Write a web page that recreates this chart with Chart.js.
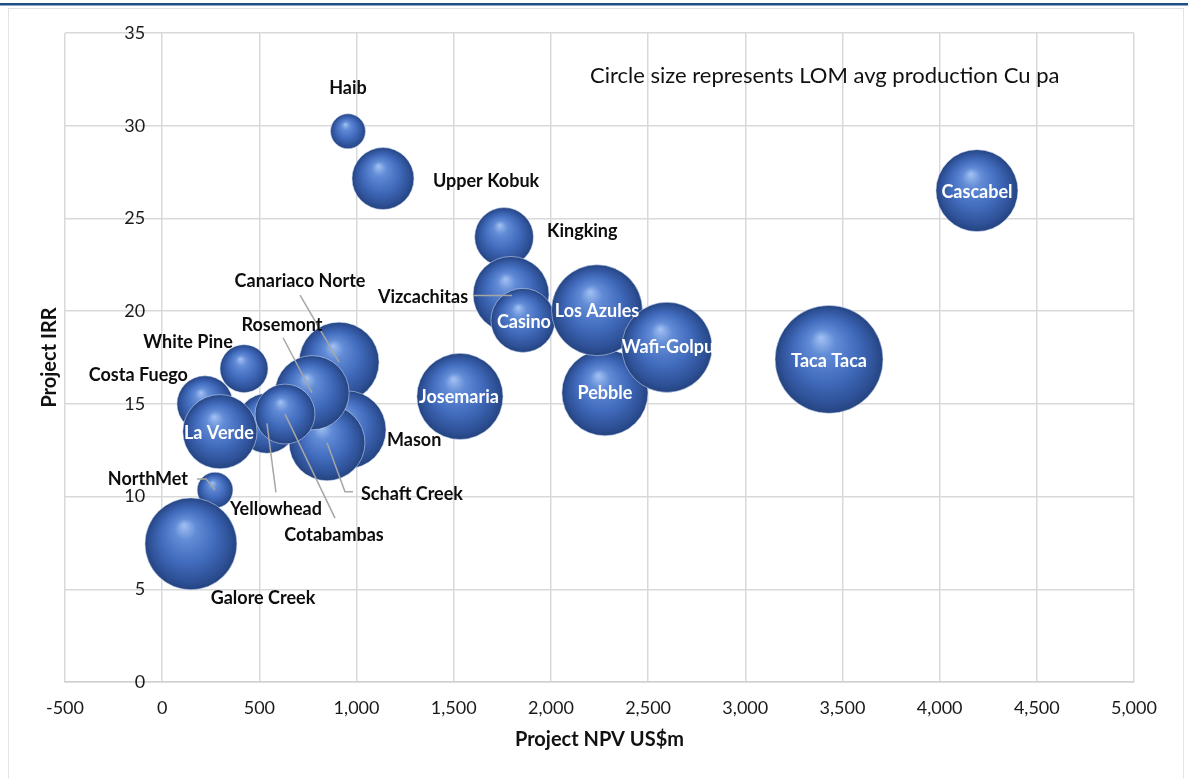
<!DOCTYPE html>
<html>
<head>
<meta charset="utf-8">
<title>Copper projects - NPV vs IRR</title>
<script src="https://cdn.jsdelivr.net/npm/chart.js@4.4.1/dist/chart.umd.min.js"></script>
<style>
    html, body { margin: 0; padding: 0; background: #ffffff; }
    #wrap { position: relative; width: 1188px; height: 778px; }
</style>
</head>
<body>
<div id="wrap"><canvas id="chart"></canvas></div>
<script>
// Project names, drawn in this order (later ones sit on top)
const projects = [
    'Canariaco Norte', 'Mason', 'Schaft Creek', 'Rosemont', 'Yellowhead', 'Cotabambas',
    'Costa Fuego', 'La Verde', 'White Pine', 'NorthMet', 'Galore Creek', 'Haib',
    'Upper Kobuk', 'Kingking', 'Vizcachitas', 'Casino', 'Pebble', 'Los Azules',
    'Wafi-Golpu', 'Josemaria', 'Taca Taca', 'Cascabel'
];

// Project NPV US$m
const npv = [
    910, 951, 848, 771, 539, 632,
    220, 297, 421, 272, 148, 956,
    1136, 1759, 1795, 1856, 2278, 2237,
    2597, 1532, 3431, 4192
];

// Project IRR %
const irr = [
    17.25, 13.6, 12.9, 15.6, 13.95, 14.45,
    15.0, 13.5, 16.9, 10.35, 7.45, 29.7,
    27.15, 24.0, 20.9, 19.5, 15.6, 20.05,
    18.05, 15.4, 17.4, 26.5
];

// LOM avg production Cu pa (kt, bubble area)
const production = [
    100, 95, 90, 86, 56, 56,
    49, 86, 36, 20, 132, 19,
    60, 54, 90, 64, 116, 129,
    127, 116, 182, 105
];

// x axis ticks
const npvTicks = [-500, 0, 500, 1000, 1500, 2000, 2500, 3000, 3500, 4000, 4500, 5000];

// label placement: [dx, dy, align, colour, leader points]
const labelLayout = {
    'Haib':            [0, -43, 'center', 'dark'],
    'Upper Kobuk':     [50, 3, 'left', 'dark'],
    'Kingking':        [43, -6, 'left', 'dark'],
    'Vizcachitas':     [-43, 3, 'right', 'dark', [[-38, 1], [1, 1]]],
    'Canariaco Norte': [-39, -81, 'center', 'dark', [[-39, -67], [0, 0]]],
    'Rosemont':        [-30, -68, 'center', 'dark', [[-29, -55], [0, 0]]],
    'Mason':           [40, 10, 'left', 'dark'],
    'Schaft Creek':    [34, 51, 'left', 'dark', [[0, 0], [18, 49], [26, 49]]],
    'Cotabambas':      [49, 121, 'center', 'dark', [[0, 0], [50, 104]]],
    'Yellowhead':      [9, 86, 'center', 'dark', [[0, 0], [9, 69]]],
    'Costa Fuego':     [-17, -29, 'right', 'dark'],
    'White Pine':      [-56, -26, 'center', 'dark'],
    'NorthMet':        [-27, -11, 'right', 'dark', [[-18, -11], [-9, -11], [0, 0]]],
    'Galore Creek':    [72, 54, 'center', 'dark'],
    'Casino':          [1, 2, 'center', 'light'],
    'Los Azules':      [0, 1, 'center', 'light'],
    'Wafi-Golpu':      [1, 0, 'center', 'light'],
    'Pebble':          [0, 0, 'center', 'light'],
    'Taca Taca':       [0, 2, 'center', 'light'],
    'Cascabel':        [0, 2, 'center', 'light'],
    'Josemaria':       [-1, 1, 'center', 'light'],
    'La Verde':        [-1, 2, 'center', 'light']
};

const FONT = 'Lato, "Open Sans", sans-serif';

// bubble radius from production (area proportional)
const bubbleData = projects.map((name, i) => ({
    x: npv[i],
    y: irr[i],
    r: 4 * Math.sqrt(production[i])
}));

// shaded "sphere" fill, built from the element's own pixel position
function sphereFill(context) {
    const chart = context.chart;
    if (context.type !== 'data' || !chart.chartArea) return '#3f6cc0';
    const p = context.raw;
    const x = chart.scales.x.getPixelForValue(p.x);
    const y = chart.scales.y.getPixelForValue(p.y);
    const r = p.r;
    const g = chart.ctx.createRadialGradient(x - r * 0.15, y - r * 0.4, r * 0.02, x, y, r);
    g.addColorStop(0, '#9ebdf1');
    g.addColorStop(0.22, '#628cd6');
    g.addColorStop(0.58, '#416bbc');
    g.addColorStop(0.86, '#2f5299');
    g.addColorStop(1, '#24437f');
    return g;
}

// page frame: top rule, chart border and the note text
const framePlugin = {
    id: 'frame',
    beforeDraw(chart) {
        const ctx = chart.ctx;
        ctx.save();
        ctx.fillStyle = '#ffffff';
        ctx.fillRect(0, 0, chart.width, chart.height);
        ctx.fillStyle = '#1d4f86';
        ctx.fillRect(0, 3, chart.width, 2.5);
        ctx.strokeStyle = '#e3e3e3';
        ctx.lineWidth = 1;
        ctx.strokeRect(8.5, 8.5, 1175, 770);
        ctx.restore();
    },
    afterDraw(chart) {
        const ctx = chart.ctx;
        const area = chart.chartArea;
        ctx.save();
        ctx.fillStyle = '#111111';
        ctx.font = '22px ' + FONT;
        ctx.textAlign = 'left';
        ctx.textBaseline = 'middle';
        ctx.fillText('Circle size represents LOM avg production Cu pa', 590, 76);

        // y axis title
        ctx.font = 'bold 20px ' + FONT;
        ctx.translate(50, (area.top + area.bottom) / 2);
        ctx.rotate(-Math.PI / 2);
        ctx.textAlign = 'center';
        ctx.fillText('Project IRR', 0, 0);
        ctx.restore();
    }
};

// project name labels with grey leader lines
const labelPlugin = {
    id: 'projectLabels',
    afterDatasetsDraw(chart) {
        const ctx = chart.ctx;
        const meta = chart.getDatasetMeta(0);
        ctx.save();
        ctx.font = 'bold 18px ' + FONT;
        ctx.textBaseline = 'middle';
        meta.data.forEach((el, i) => {
            const spec = labelLayout[projects[i]];
            if (!spec) return;
            const [dx, dy, align, tone, leader] = spec;
            if (leader) {
                ctx.strokeStyle = '#a6a6a6';
                ctx.lineWidth = 1.5;
                ctx.beginPath();
                leader.forEach((pt, k) => {
                    if (k === 0) ctx.moveTo(el.x + pt[0], el.y + pt[1]);
                    else ctx.lineTo(el.x + pt[0], el.y + pt[1]);
                });
                ctx.stroke();
            }
            ctx.textAlign = align;
            ctx.fillStyle = tone === 'light' ? '#ffffff' : '#0d0d0d';
            ctx.fillText(projects[i], el.x + dx, el.y + dy);
        });
        ctx.restore();
    }
};

new Chart(document.getElementById('chart'), {
    type: 'bubble',
    data: {
        datasets: [{
            label: 'Projects',
            data: bubbleData,
            backgroundColor: sphereFill,
            borderColor: 'rgba(205, 220, 248, 0.55)',
            borderWidth: 1,
            hoverBorderWidth: 1
        }]
    },
    options: {
        responsive: true,
        maintainAspectRatio: false,
        animation: false,
        events: [],
        layout: {
            autoPadding: false,
            padding: { left: 65, right: 54, top: 33, bottom: 0 }
        },
        plugins: {
            legend: { display: false },
            tooltip: { enabled: false }
        },
        scales: {
            x: {
                type: 'linear',
                position: 'bottom',
                min: -500,
                max: 5000,
                afterBuildTicks(scale) {
                    scale.ticks = npvTicks.map(v => ({ value: v }));
                },
                afterFit(scale) {
                    scale.height = 96;
                },
                grid: {
                    color: '#d9d9d9',
                    lineWidth: 1.5,
                    drawTicks: false
                },
                border: { color: '#d0d0d0', width: 1.5 },
                ticks: {
                    padding: 15,
                    color: '#1a1a1a',
                    font: { family: FONT, size: 18 },
                    callback: v => v.toLocaleString('en-US')
                },
                title: {
                    display: true,
                    text: 'Project NPV US$m',
                    color: '#111111',
                    font: { family: FONT, size: 20, weight: 'bold' },
                    padding: { top: 4, bottom: 26 }
                }
            },
            y: {
                type: 'linear',
                // labels sit just left of the x = 0 line
                position: { x: -88 },
                min: 0,
                max: 35,
                ticks: {
                    stepSize: 5,
                    padding: 0,
                    color: '#1a1a1a',
                    font: { family: FONT, size: 18 }
                },
                grid: {
                    color: '#d9d9d9',
                    lineWidth: 1.5,
                    drawTicks: false
                },
                border: { display: false }
            }
        }
    },
    plugins: [framePlugin, labelPlugin]
});
</script>
</body>
</html>
